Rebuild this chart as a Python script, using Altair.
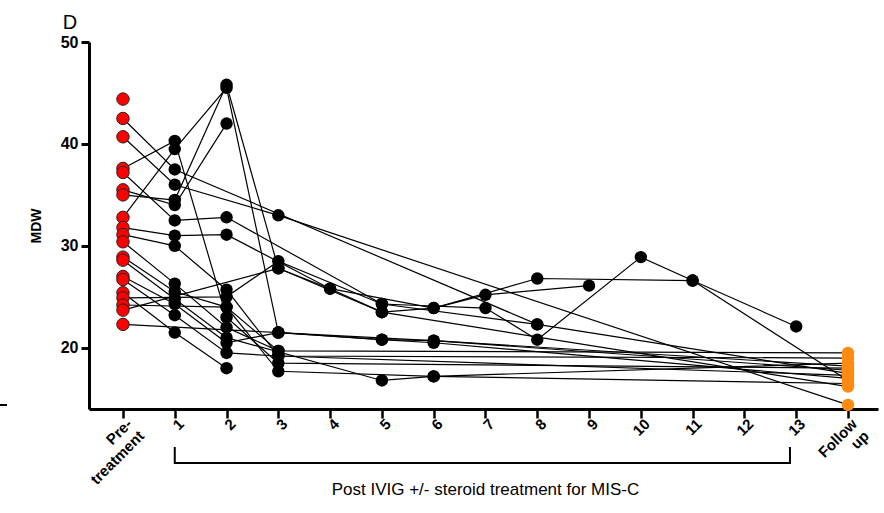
import altair as alt
import pandas as pd

# ---- data (day index: 0 = Pre-treatment, 1..13 = days post IVIG, 14 = Follow up)
x_labels = ["Pre-|treatment", "1", "2", "3", "4", "5", "6", "7", "8", "9", "10",
            "11", "12", "13", "Follow|up"]
y_ticks = [20, 30, 40, 50]

p01 = [(0, 44.4)]
p02 = [(0, 42.5), (1, 37.5), (8, 22.3), (14, 17.5)]
p03 = [(0, 40.7), (1, 36.0), (3, 33.0), (14, 14.4)]
p04 = [(0, 37.6), (1, 40.3), (2, 23.0), (3, 18.5), (14, 18.0)]
p05 = [(0, 37.2), (1, 32.5), (2, 32.8), (5, 24.3), (7, 23.9), (8, 20.8), (10, 28.9), (11, 26.6), (14, 16.8)]
p06 = [(0, 35.5), (1, 34.0), (2, 42.0)]
p07 = [(0, 35.0), (1, 34.5), (2, 45.8), (3, 27.8), (4, 25.8), (5, 23.5), (6, 23.9), (8, 26.8), (11, 26.6), (13, 22.1)]
p08 = [(0, 32.8), (1, 39.5), (2, 45.5), (3, 21.5), (5, 20.8), (6, 20.5), (14, 17.0)]
p09 = [(0, 31.8), (1, 31.0), (2, 31.1), (4, 25.8), (6, 23.9), (7, 25.2), (9, 26.1)]
p10 = [(0, 31.1), (1, 30.0), (2, 25.7), (3, 19.2), (14, 19.0)]
p11 = [(0, 30.4), (1, 26.3), (2, 22.0), (3, 19.7), (14, 19.5)]
p12 = [(0, 28.9), (1, 25.5), (2, 24.0), (3, 17.7), (6, 17.2), (14, 16.5)]
p13 = [(0, 28.6), (1, 24.8), (2, 21.0), (5, 16.8), (6, 17.2), (14, 18.5)]
p14 = [(0, 27.0), (1, 24.3), (2, 20.5), (3, 21.5), (6, 20.7), (14, 17.8)]
p15 = [(0, 26.7), (1, 23.2), (2, 19.5), (3, 19.2), (14, 17.3)]
p16 = [(0, 25.4), (1, 21.5), (2, 18.0)]
p17 = [(0, 24.9), (2, 25.0), (3, 28.5), (5, 24.3), (8, 22.3)]
p18 = [(0, 24.2), (2, 24.0), (3, 19.7)]
p19 = [(0, 23.7), (3, 27.8), (5, 23.5), (14, 16.2)]
p20 = [(0, 22.3), (3, 21.5), (5, 20.8), (6, 20.7), (14, 18.2)]

patients = [p01, p02, p03, p04, p05, p06, p07, p08, p09, p10,
            p11, p12, p13, p14, p15, p16, p17, p18, p19, p20]

bracket_days = [1, 12.88]
bracket_mid = 7
subtitle = "Post IVIG +/- steroid treatment for MIS-C"

rows = []
for i, p in enumerate(patients):
    for d, v in p:
        phase = "pre" if d == 0 else ("follow" if d == 14 else "post")
        rows.append({"patient": f"P{i+1:02d}", "day": d, "mdw": v, "phase": phase})
df = pd.DataFrame(rows)

FONT = "Liberation Sans"
W, H = 789, 367

label_arr = "[" + ",".join("'" + s + "'" for s in x_labels) + "]"
x_scale = alt.Scale(domain=[-0.656, 14.58], nice=False, zero=False)
y_scale = alt.Scale(domain=[14, 50], nice=False, zero=False)

x_enc = alt.X("day:Q", scale=x_scale, axis=alt.Axis(
    values=list(range(15)), labelExpr=f"split({label_arr}[datum.value], '|')",
    labelAngle=-45, labelAlign="right", labelBaseline="middle",
    labelFont=FONT, labelFontWeight="bold", labelFontSize=15, labelColor="black",
    labelPadding=3, labelOffset=6, labelLineHeight=17, labelOverlap=False,
    tickSize=9, tickWidth=2.5, tickColor="black",
    domainWidth=3, domainColor="black", grid=False, title=None))
y_enc = alt.Y("mdw:Q", scale=y_scale, axis=alt.Axis(
    values=y_ticks, title="MDW", titleFont=FONT, titleFontWeight="bold",
    titleFontSize=14, titleColor="black", titlePadding=17,
    labelFont=FONT, labelFontWeight="bold", labelFontSize=16, labelColor="black",
    labelPadding=3, tickSize=8, tickWidth=3, tickColor="black",
    domainWidth=3, domainColor="black", grid=False))

base = alt.Chart(df)
lines = base.mark_line(color="black", strokeWidth=1.2).encode(
    x=x_enc, y=y_enc, detail="patient:N", order="day:Q")
black_pts = base.transform_filter("datum.phase == 'post'").mark_point(
    filled=True, color="black", size=155, opacity=1).encode(x="day:Q", y="mdw:Q")
orange_pts = base.transform_filter("datum.phase == 'follow'").mark_point(
    filled=True, color="#ff8a11", size=155, opacity=1).encode(x="day:Q", y="mdw:Q")
red_pts = base.transform_filter("datum.phase == 'pre'").mark_point(
    filled=True, fill="#ff0000", stroke="#222222", strokeWidth=1, size=155,
    opacity=1).encode(x="day:Q", y="mdw:Q")

bdf = pd.DataFrame({"x1": [bracket_days[0]], "x2": [bracket_days[1]]})
bh = alt.Chart(bdf).mark_rule(color="black", strokeWidth=2).encode(
    x="x1:Q", x2="x2:Q", y=alt.value(H + 54))
bl = alt.Chart(bdf).mark_rule(color="black", strokeWidth=2).encode(
    x="x1:Q", y=alt.value(H + 38), y2=alt.value(H + 55))
br = alt.Chart(bdf).mark_rule(color="black", strokeWidth=2).encode(
    x="x2:Q", y=alt.value(H + 38), y2=alt.value(H + 55))
tdf = pd.DataFrame({"x": [bracket_mid], "t": [subtitle]})
txt = alt.Chart(tdf).mark_text(font=FONT, fontSize=17, color="black",
                               baseline="middle", align="center").encode(
    x="x:Q", y=alt.value(H + 81), text="t:N")
panel = alt.Chart(pd.DataFrame({"t": ["D"]})).mark_text(
    font=FONT, fontSize=20, color="black", align="center", baseline="alphabetic").encode(
    x=alt.value(-19), y=alt.value(-13), text="t:N")
stray = alt.Chart(pd.DataFrame({"a": [0]})).mark_rule(color="black", strokeWidth=2).encode(
    x=alt.value(-89), x2=alt.value(-82), y=alt.value(363))

chart = alt.layer(lines, black_pts, orange_pts, red_pts, bh, bl, br, txt, panel, stray).properties(
    width=W, height=H,
    autosize=alt.AutoSizeParams(type="none"),
    padding={"left": 89, "top": 42, "right": 6, "bottom": 104},
).configure_view(stroke=None)

chart.save("out.html", embed_options={"renderer": "svg", "actions": False})
